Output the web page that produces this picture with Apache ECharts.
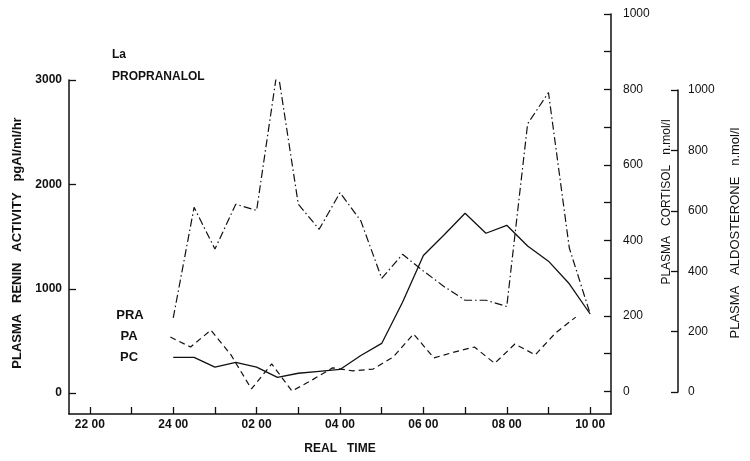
<!DOCTYPE html>
<html>
<head>
<meta charset="utf-8">
<script src="https://cdn.jsdelivr.net/npm/echarts@6/dist/echarts.min.js"></script>
<style>html,body{margin:0;padding:0;background:#fff;}#c{width:750px;height:461px;}</style>
</head>
<body>
<div id="c"></div>
<script>
// Sampling times (hours; 24 = midnight, 34 = 10:00 next morning)
const times = [24, 24.5, 25, 25.5, 26, 26.5, 27, 27.5, 28, 28.5, 29, 29.5, 30, 30.5, 31, 31.5, 32, 32.5, 33, 33.5, 34];
// Plasma renin activity, pgAI/ml/hr (left axis)
const praValues = [720, 1780, 1380, 1810, 1750, 3110, 1810, 1570, 1920, 1650, 1100, 1330, 1170, 1020, 890, 890, 830, 2580, 2880, 1390, 760];
// Plasma aldosterone (right outer axis)
const paValues = [182, 149, 205, 122, 10, 93, 3, 40, 80, 70, 76, 116, 192, 113, 132, 149, 95, 159, 123, 195, 248];
// Plasma cortisol n.mol/l (right inner axis)
const pcValues = [90, 90, 64, 77, 64, 37, 48, 53, 58, 95, 127, 236, 360, 415, 472, 419, 440, 385, 345, 285, 205];

const xTickHours = [22, 23, 24, 25, 26, 27, 28, 29, 30, 31, 32, 33, 34];
const xLabelHours = [22, 24, 26, 28, 30, 32, 34];
const reninTicks = [0, 1000, 2000, 3000];
const cortisolTicks = [0, 100, 200, 300, 400, 500, 600, 700, 800, 900, 1000];
const cortisolLabels = [0, 200, 400, 600, 800, 1000];
const aldoTicks = [0, 200, 400, 600, 800, 1000];
const seriesLabels = ['PRA', 'PA', 'PC'];

const FONT = 'Liberation Sans';
const black = '#111';

function hourLabel(v) {
  const h = Math.round(v);
  let hh = h > 24 ? h - 24 : h;
  return (hh < 10 ? '0' + hh : '' + hh) + ' 00';
}
const plain = (v) => String(Math.round(v));
function pairs(vals) { return times.map((t, i) => [t, vals[i]]); }

const chart = echarts.init(document.getElementById('c'), null, {renderer: 'canvas'});
const hiddenX = (gi) => ({type: 'value', gridIndex: gi, min: 21.5, max: 34.5, show: false});

const option = {
  animation: false,
  backgroundColor: '#fff',
  grid: [
    {left: 69, right: 139, top: 80, bottom: 47},
    {left: 69, right: 139, top: 14, bottom: 47},
    {left: 69, right: 139, top: 90, bottom: 69}
  ],
  xAxis: [
    {
      type: 'value', gridIndex: 0, min: 21.5, max: 34.5,
      axisLine: {onZero: false, lineStyle: {color: black, width: 1.5}},
      axisTick: {inside: true, length: 7, customValues: xTickHours, lineStyle: {color: black, width: 1.3}},
      axisLabel: {customValues: xLabelHours, formatter: hourLabel, color: black, fontFamily: FONT, fontSize: 12, fontWeight: 'bold', margin: 5},
      splitLine: {show: false},
      name: 'REAL   TIME', nameLocation: 'middle', nameGap: 29,
      nameTextStyle: {color: black, fontFamily: FONT, fontSize: 12, fontWeight: 'bold'}
    },
    hiddenX(1),
    hiddenX(2)
  ],
  yAxis: [
    {
      type: 'value', gridIndex: 0, position: 'left', min: -200, max: 3000,
      axisLine: {show: true, onZero: false, lineStyle: {color: black, width: 1.5}},
      axisTick: {show: true, inside: true, length: 7, customValues: reninTicks, lineStyle: {color: black, width: 1.3}},
      axisLabel: {customValues: reninTicks, formatter: plain, color: black, fontFamily: FONT, fontSize: 12, fontWeight: 'bold', margin: 7},
      splitLine: {show: false},
      name: 'PLASMA   RENIN   ACTIVITY   pgAI/ml/hr', nameLocation: 'middle', nameRotate: 90, nameGap: 42,
      nameTextStyle: {color: black, fontFamily: FONT, fontSize: 13, fontWeight: 'bold', padding: [0, 0, 0, 8]}
    },
    {
      type: 'value', gridIndex: 1, position: 'right', min: -60, max: 1000,
      axisLine: {show: true, onZero: false, lineStyle: {color: black, width: 1.5}},
      axisTick: {show: true, inside: true, length: 7, customValues: cortisolTicks, lineStyle: {color: black, width: 1.3}},
      axisLabel: {customValues: cortisolLabels, formatter: plain, color: black, fontFamily: FONT, fontSize: 12, margin: 12},
      splitLine: {show: false},
      name: 'PLASMA   CORTISOL   n.mol/l', nameLocation: 'middle', nameRotate: 90, nameGap: 45,
      nameTextStyle: {color: black, fontFamily: FONT, fontSize: 12, padding: [0, 0, 0, 24]}
    },
    {
      type: 'value', gridIndex: 2, position: 'right', offset: 82, min: 0, max: 1000,
      axisLine: {show: true, onZero: false, lineStyle: {color: black, width: 1.5}},
      axisTick: {show: true, inside: true, length: 7, customValues: aldoTicks, lineStyle: {color: black, width: 1.3}},
      axisLabel: {customValues: aldoTicks, formatter: plain, color: black, fontFamily: FONT, fontSize: 12, margin: 10},
      splitLine: {show: false},
      name: 'PLASMA   ALDOSTERONE   n.mol/l', nameLocation: 'middle', nameRotate: 90, nameGap: 51,
      nameTextStyle: {color: black, fontFamily: FONT, fontSize: 13, padding: [0, 0, 0, 16]}
    }
  ],
  series: [
    {
      name: seriesLabels[0], type: 'line', xAxisIndex: 0, yAxisIndex: 0, data: pairs(praValues),
      showSymbol: false, symbol: 'none',
      lineStyle: {color: black, width: 1.2, type: [8, 3, 1.5, 3]}
    },
    {
      name: seriesLabels[1], type: 'line', xAxisIndex: 2, yAxisIndex: 2, data: pairs(paValues),
      showSymbol: false, symbol: 'none',
      lineStyle: {color: black, width: 1.2, type: [6, 4]}
    },
    {
      name: seriesLabels[2], type: 'line', xAxisIndex: 1, yAxisIndex: 1, data: pairs(pcValues),
      showSymbol: false, symbol: 'none',
      lineStyle: {color: black, width: 1.3, type: 'solid'}
    }
  ],
  graphic: [
    {type: 'text', left: 112, top: 49, style: {text: 'La', font: 'bold 12px "Liberation Sans"', fill: black}},
    {type: 'text', left: 112, top: 71, style: {text: 'PROPRANALOL', font: 'bold 12px "Liberation Sans"', fill: black}},
    {type: 'text', x: 130, y: 315, style: {text: seriesLabels[0], font: 'bold 13px "Liberation Sans"', fill: black, align: 'center', verticalAlign: 'middle'}},
    {type: 'text', x: 129, y: 336, style: {text: seriesLabels[1], font: 'bold 13px "Liberation Sans"', fill: black, align: 'center', verticalAlign: 'middle'}},
    {type: 'text', x: 129, y: 357, style: {text: seriesLabels[2], font: 'bold 13px "Liberation Sans"', fill: black, align: 'center', verticalAlign: 'middle'}}
  ]
};
chart.setOption(option);
</script>
</body>
</html>
